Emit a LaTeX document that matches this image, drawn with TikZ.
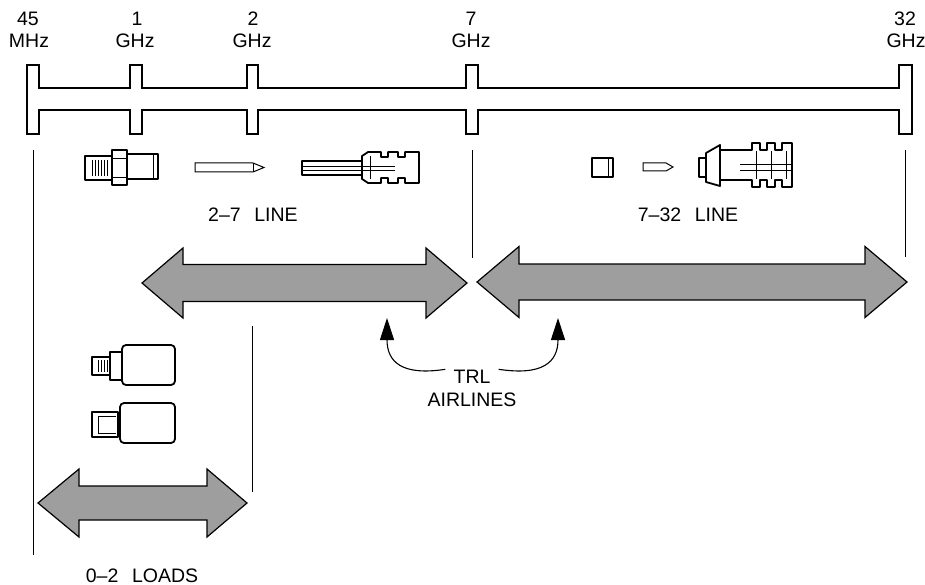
\documentclass[tikz,border=0pt]{standalone}
\usepackage{fontspec}
\setmainfont{Liberation Sans}
\usetikzlibrary{arrows.meta}
\begin{document}
\begin{tikzpicture}[x=1pt,y=-1pt,
  lbl/.style={font=\fontsize{19.5}{20}\selectfont, anchor=base, inner sep=0pt},
  bar/.style={line width=1.4pt, line join=miter},
  guide/.style={line width=0.9pt},
  big/.style={draw=black, line width=1.2pt, fill=black!38, line join=miter},
  part/.style={draw=black, line width=1.8pt, fill=white, line join=round},
  thin/.style={line width=0.8pt},
  curv/.style={line width=1.1pt, -{Triangle[length=22pt,width=14pt]}}]
\path[use as bounding box] (0,0) rectangle (925,585);
% scale bar
\draw[bar] (27,65) -- (39,65) -- (39,88) -- (130,88) -- (130,65) -- (142,65) -- (142,88)
  -- (247,88) -- (247,65) -- (258,65) -- (258,88) -- (466,88) -- (466,65) -- (478,65) -- (478,88)
  -- (899,88) -- (899,65) -- (912,65) -- (912,134) -- (899,134) -- (899,110)
  -- (478,110) -- (478,134) -- (466,134) -- (466,110) -- (258,110) -- (258,134) -- (247,134) -- (247,110)
  -- (142,110) -- (142,134) -- (130,134) -- (130,110) -- (39,110) -- (39,134) -- (27,134) -- cycle;
% frequency labels
\node[lbl] (f1a) at (28,26) {45};
\node[lbl] (f1b) at (29,48) {MHz};
\node[lbl] (f2a) at (137,26) {1};
\node[lbl] (f2b) at (135,48) {GHz};
\node[lbl] (f3a) at (253,26) {2};
\node[lbl] (f3b) at (252,48) {GHz};
\node[lbl] (f4a) at (471,26) {7};
\node[lbl] (f4b) at (471,48) {GHz};
\node[lbl] (f5a) at (905,26) {32};
\node[lbl] (f5b) at (906,48) {GHz};
% guide lines
\draw[guide] (33,150) -- (33,555);
\draw[guide] (252,326) -- (252,492);
\draw[guide] (472,150) -- (472,258);
\draw[guide] (905,150) -- (905,257);
% big double arrows
\draw[big] (142,283) -- (183,248) -- (183,264.5) -- (426,264.5) -- (426,248) -- (467,283)
  -- (426,318) -- (426,301.5) -- (183,301.5) -- (183,318) -- cycle;
\draw[big] (477,282) -- (519,246.5) -- (519,264) -- (865,264) -- (865,246.5) -- (907,282)
  -- (865,317.5) -- (865,300) -- (519,300) -- (519,317.5) -- cycle;
\draw[big] (38,503) -- (79,469) -- (79,486) -- (207,486) -- (207,469) -- (247,503)
  -- (207,537) -- (207,520) -- (79,520) -- (79,537) -- cycle;
% labels
\node[lbl] (l27) at (253,222) {2--7\hspace{0.7em}LINE};
\node[lbl] (l732) at (688,222) {7--32\hspace{0.7em}LINE};
\node[lbl] (trl) at (472,383) {TRL};
\node[lbl] (air) at (472,406) {AIRLINES};
\node[lbl] (loads) at (142,582) {0--2\hspace{0.7em}LOADS};
% TRL curved arrows
\coordinate (t1) at (387,318);
\coordinate (t2) at (558,318);
\draw[curv] (trl.west) ++(-8,-7) coordinate (s1) .. controls (402,376) and (387,362) .. (t1);
\draw[curv] (trl.east) ++(8,-7) coordinate (s2) .. controls (543,376) and (558,362) .. (t2);
% SMA connector (2-7)
\draw[part] (85,156) rectangle (112,180);
\foreach \xx in {92,95,98,101,104,107} \draw[thin] (\xx,160) -- (\xx,176);
\draw[part] (112,150) rectangle (127,185);
\draw[thin] (112,158) -- (127,158) (112,177) -- (127,177);
\draw[part] (127,154) rectangle (158,179);
\draw[thin] (153,155) -- (153,178);
% pin (2-7)
\draw[line width=1pt, fill=white] (195,163) -- (253,163) -- (264,167.5) -- (253,172) -- (195,172) -- cycle;
\draw[thin] (253,163) -- (253,172);
% airline outer conductor (2-7)
\draw[part] (302,161) rectangle (362,175);
\draw[part] (362,156) -- (368,152) -- (381,152) -- (381,157) -- (388,157) -- (388,152) -- (398,152)
  -- (398,157) -- (405,157) -- (405,152) -- (419,152) -- (419,183) -- (405,183) -- (405,178)
  -- (398,178) -- (398,183) -- (388,183) -- (388,178) -- (381,178) -- (381,183) -- (368,183)
  -- (362,179) -- cycle;
\draw[thin] (302,166) -- (395,166) (302,170) -- (395,170);
\draw[thin] (370,156) -- (370,179);
% small square (7-32)
\draw[part] (592,158) rectangle (613,177);
\draw[thin] (608,159) -- (608,176);
% pin (7-32)
\draw[line width=1pt, fill=white] (643,163) -- (666,163) -- (673,167) -- (666,171) -- (643,171) -- cycle;
% big connector (7-32)
\draw[part] (699,158) rectangle (706,177);
\draw[part] (706,153) -- (720,145) -- (720,186) -- (706,182) -- cycle;
\draw[part] (720,150) -- (752,150) -- (752,143) -- (760,143) -- (760,150) -- (767,150) -- (767,143)
  -- (775,143) -- (775,150) -- (782,150) -- (782,143) -- (792,143) -- (792,187) -- (782,187)
  -- (782,180) -- (775,180) -- (775,187) -- (767,187) -- (767,180) -- (760,180) -- (760,187)
  -- (752,187) -- (752,180) -- (720,180) -- cycle;
\draw[thin] (740,164) -- (792,164) (740,170) -- (792,170);
\draw[thin] (756,151) -- (756,179) (771,151) -- (771,179) (786,151) -- (786,179);
% load 1
\draw[part] (92,357) rectangle (110,375);
\foreach \xx in {98,101,104,107} \draw[thin] (\xx,360) -- (\xx,372);
\draw[part] (110,352) rectangle (122,380);
\draw[part, rounded corners=4pt] (122,345) rectangle (175,385);
% load 2
\draw[part] (92,412) rectangle (118,437);
\draw[thin] (98,416) -- (116,416) (98,433) -- (116,433) (98,416) -- (98,433);
\draw[part, rounded corners=4pt] (120,403) rectangle (175,443);
\end{tikzpicture}
\end{document}
